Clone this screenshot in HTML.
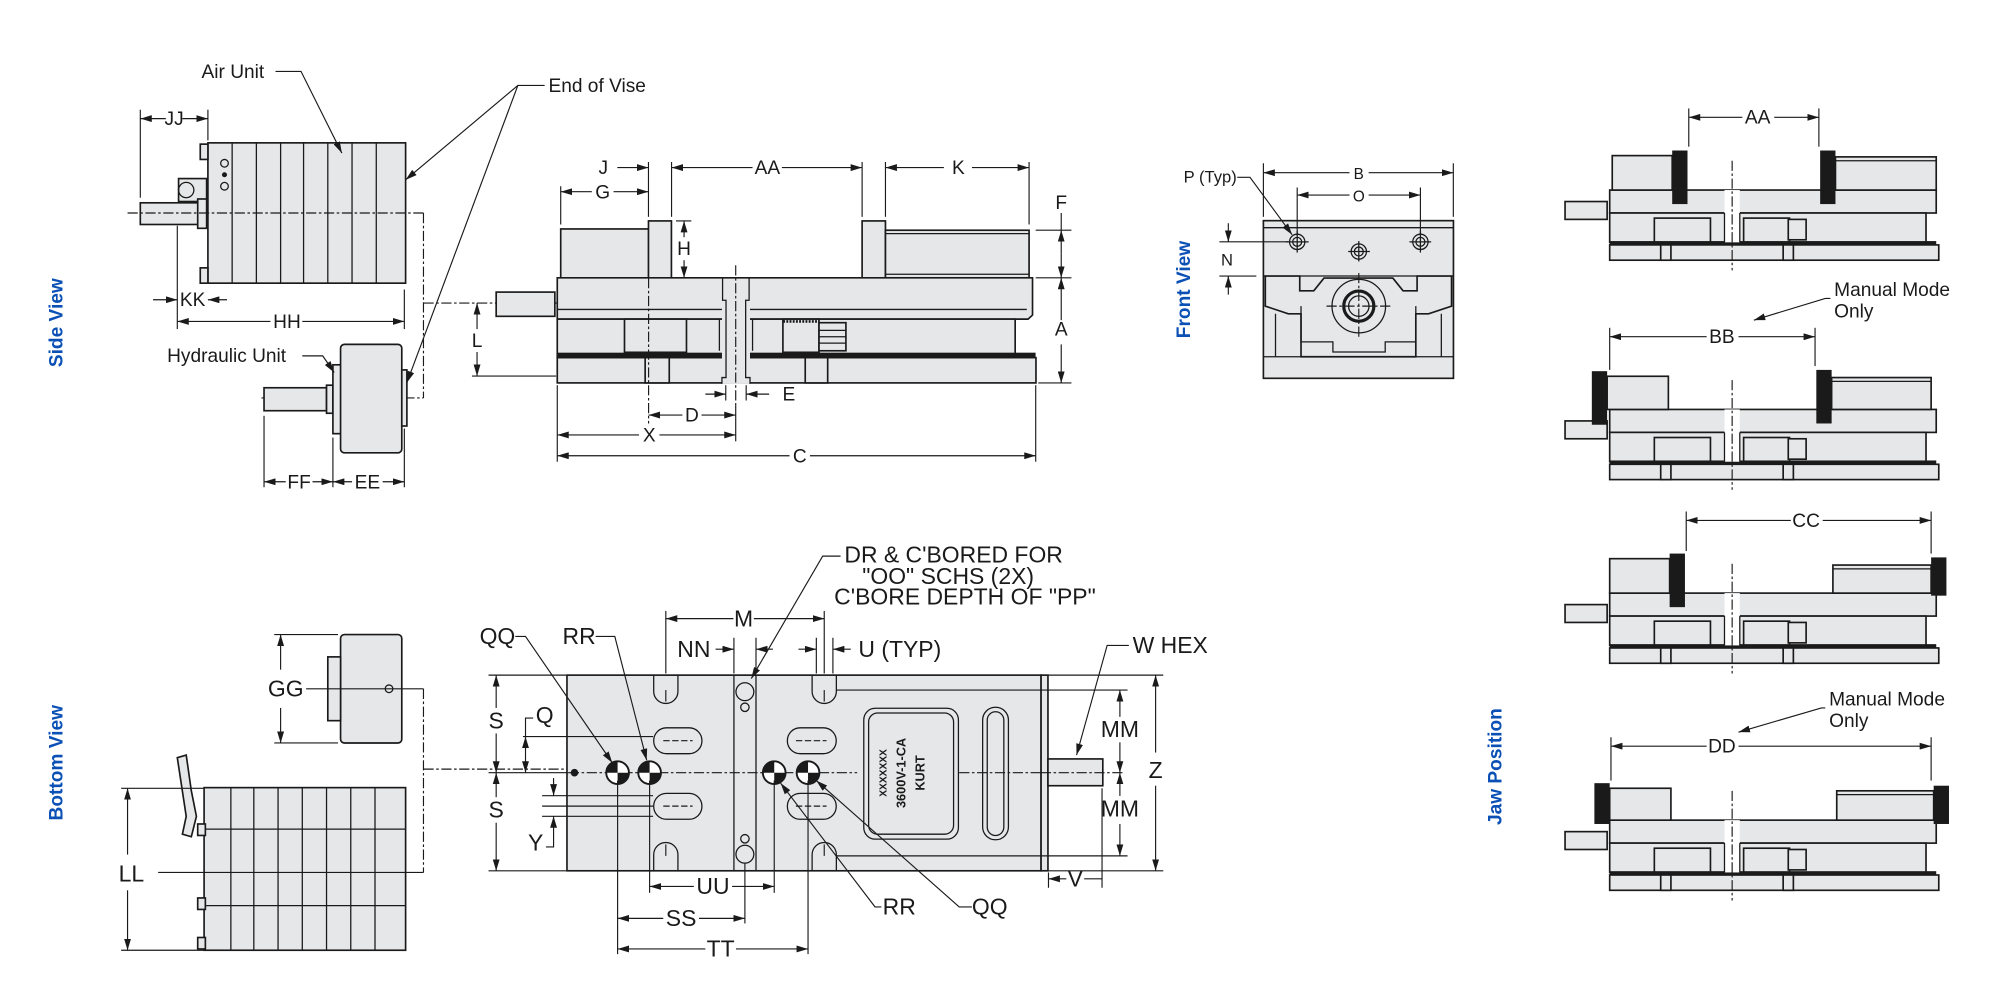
<!DOCTYPE html>
<html><head><meta charset="utf-8"><style>
html,body{margin:0;padding:0;background:#fff;width:2000px;height:1000px;overflow:hidden}
svg{display:block}
text{font-family:"Liberation Sans Narrow","Liberation Sans",sans-serif;fill:#1a1a1a}
.b{fill:#e6e7e8;stroke:#1a1a1a;stroke-width:1.3}
.k{fill:none;stroke:#1a1a1a;stroke-width:1}
.t{fill:none;stroke:#1a1a1a;stroke-width:0.9}
.c{fill:none;stroke:#1a1a1a;stroke-width:0.9;stroke-dasharray:8 2 2 2}
.d{fill:#1a1a1a}
.bl{font-family:"Liberation Sans",sans-serif;font-weight:bold;fill:#0b50b5;font-size:15px}
.s{font-size:15px}
.m{font-size:18px}
</style></head><body>
<svg width="2000" height="1000" viewBox="0 0 1568 784" xmlns="http://www.w3.org/2000/svg">
<defs>
<marker id="a" viewBox="0 0 10 6" refX="10" refY="3" markerWidth="9" markerHeight="5.4" markerUnits="userSpaceOnUse" orient="auto-start-reverse"><path d="M0,0 L10,3 L0,6z" fill="#1a1a1a"/></marker>
<g id="jb">
<rect class="b" x="1227" y="158" width="33" height="14"/>
<rect class="b" x="1262" y="149" width="256" height="18"/>
<rect class="b" x="1262" y="167" width="248" height="23"/>
<rect class="b" x="1297" y="171" width="44" height="19"/>
<rect class="b" x="1367" y="171" width="36" height="19"/>
<rect class="b" x="1402" y="172" width="14" height="16"/>
<rect x="1262" y="189" width="256" height="3" class="d"/>
<rect class="b" x="1262" y="192" width="258" height="12"/>
<rect class="b" x="1302" y="192" width="8" height="12"/>
<rect class="b" x="1398" y="192" width="8" height="12"/>
<rect x="1352" y="149" width="12" height="41" fill="#fff"/>
<line class="k" x1="1352" y1="167" x2="1352" y2="190"/><line class="k" x1="1364" y1="167" x2="1364" y2="190"/>
<line class="c" x1="1358" y1="126" x2="1358" y2="212"/>
</g>
</defs>

<!-- ===== Side view: air unit ===== -->
<rect class="b" x="163" y="112" width="155" height="110"/>
<g class="k"><line x1="182" y1="112" x2="182" y2="222"/><line x1="201" y1="112" x2="201" y2="222"/><line x1="220" y1="112" x2="220" y2="222"/><line x1="238" y1="112" x2="238" y2="222"/><line x1="257" y1="112" x2="257" y2="222"/><line x1="276" y1="112" x2="276" y2="222"/><line x1="295" y1="112" x2="295" y2="222"/></g>
<rect class="b" x="157" y="113" width="6" height="12"/><rect class="b" x="157" y="210" width="6" height="12"/>
<circle class="k" cx="176" cy="128" r="3"/><circle class="d" cx="176" cy="137" r="2"/><circle class="k" cx="176" cy="146" r="3"/>
<rect class="b" x="140" y="140" width="22" height="18"/><circle class="k" cx="146" cy="149" r="6"/>
<rect class="b" x="110" y="159" width="46" height="17"/><rect class="b" x="155" y="156" width="7" height="23"/>
<line class="c" x1="100" y1="167" x2="333" y2="167"/>
<line class="c" x1="332" y1="167" x2="332" y2="312"/>
<line class="c" x1="332" y1="237.6" x2="437" y2="237.6"/>
<line class="c" x1="205" y1="312" x2="332" y2="312"/>
<!-- JJ -->
<line class="t" x1="110" y1="86" x2="110" y2="155"/><line class="t" x1="163" y1="86" x2="163" y2="110"/>
<line class="t" x1="110" y1="93" x2="130" y2="93" marker-start="url(#a)"/><line class="t" x1="143" y1="93" x2="163" y2="93" marker-end="url(#a)"/>
<text class="s" x="136.5" y="98" text-anchor="middle">JJ</text>
<!-- KK -->
<line class="t" x1="139" y1="177" x2="139" y2="258"/>
<line class="t" x1="120" y1="235" x2="139" y2="235" marker-end="url(#a)"/><line class="t" x1="178" y1="235" x2="163" y2="235" marker-end="url(#a)"/>
<text class="s" x="151" y="240" text-anchor="middle">KK</text>
<!-- HH -->
<line class="t" x1="317" y1="227" x2="317" y2="258"/>
<line class="t" x1="139" y1="252" x2="212" y2="252" marker-start="url(#a)"/><line class="t" x1="237" y1="252" x2="317" y2="252" marker-end="url(#a)"/>
<text class="s" x="225" y="257" text-anchor="middle">HH</text>
<text class="s" x="158" y="61">Air Unit</text>
<polyline class="t" points="216,56 236,56 268,120" marker-end="url(#a)"/>
<text class="s" x="430" y="72">End of Vise</text>
<polyline class="t" points="427,67 406,67 318,141" marker-end="url(#a)"/>
<line class="t" x1="406" y1="67" x2="319" y2="300" marker-end="url(#a)"/>
<!-- hydraulic -->
<rect class="b" x="207" y="304" width="49" height="18"/>
<rect class="b" x="256" y="302" width="5" height="22"/>
<rect class="b" x="261" y="286" width="7" height="54"/>
<rect class="b" x="267" y="270" width="48" height="85" rx="3"/>
<rect class="b" x="315" y="290" width="4" height="44"/>
<text class="s" x="131" y="284">Hydraulic Unit</text>
<polyline class="t" points="237,279 253,279 262,292" marker-end="url(#a)"/>
<line class="t" x1="207" y1="326" x2="207" y2="382"/><line class="t" x1="261" y1="343" x2="261" y2="382"/><line class="t" x1="317" y1="336" x2="317" y2="382"/>
<line class="t" x1="207" y1="377.7" x2="224" y2="377.7" marker-start="url(#a)"/><line class="t" x1="245" y1="377.7" x2="261" y2="377.7" marker-end="url(#a)"/>
<line class="t" x1="261" y1="377.7" x2="276" y2="377.7" marker-start="url(#a)"/><line class="t" x1="300" y1="377.7" x2="317" y2="377.7" marker-end="url(#a)"/>
<text class="s" x="234.5" y="383" text-anchor="middle">FF</text><text class="s" x="288" y="383" text-anchor="middle">EE</text>

<!-- ===== main vise side view ===== -->
<rect class="b" x="389" y="229" width="46" height="19"/>
<rect class="b" x="439.6" y="179.5" width="69" height="39"/>
<rect class="b" x="508.4" y="173.2" width="18" height="45"/>
<rect class="b" x="675.9" y="173.2" width="18.3" height="45"/>
<rect class="b" x="694.2" y="180.5" width="112.6" height="37.3"/>
<line class="k" x1="694.2" y1="183.2" x2="806.8" y2="183.2"/><line class="k" x1="694.2" y1="215" x2="806.8" y2="215"/>
<path class="b" d="M436.9,217.8 H809.5 V247 L806,250.2 H436.9Z"/>
<line class="k" x1="436.9" y1="242.6" x2="805" y2="242.6"/>
<rect class="b" x="436.9" y="250.2" width="359" height="29.7"/>
<rect class="b" x="489.6" y="250.2" width="48.6" height="26"/>
<rect class="b" x="613.8" y="250.2" width="28.3" height="26"/>
<rect class="b" x="642.1" y="253" width="21.1" height="22"/>
<g class="k"><line x1="642" y1="259" x2="663" y2="259"/><line x1="642" y1="264" x2="663" y2="264"/><line x1="642" y1="269" x2="663" y2="269"/></g>
<line x1="614" y1="252" x2="642" y2="252" stroke="#1a1a1a" stroke-width="2" stroke-dasharray="1.5 1"/>
<rect x="436.9" y="276.5" width="375" height="3.5" class="d"/>
<rect class="b" x="436.9" y="280.4" width="375.3" height="19.8"/>
<rect class="b" x="505.8" y="280.4" width="18.9" height="19.8"/>
<rect class="b" x="631.3" y="280.4" width="17.6" height="19.8"/>
<rect x="566" y="219" width="22" height="82" fill="#e6e7e8"/>
<path class="k" d="M566.5,218 V235.4 H569.2 V296 H566 V301 M587.3,218 V235.4 H584.6 V296 H588 V301"/>
<path class="k" d="M566,250.2 H564 V275 M588,250.2 H590 V275"/>
<line class="c" x1="576.8" y1="208" x2="576.8" y2="318"/>
<line class="c" x1="508.5" y1="218" x2="508.5" y2="332"/>
<!-- dims top -->
<g class="t">
<line x1="439.6" y1="146" x2="439.6" y2="176"/><line x1="508.4" y1="127" x2="508.4" y2="170"/><line x1="526.5" y1="127" x2="526.5" y2="170"/>
<line x1="675.9" y1="127" x2="675.9" y2="170"/><line x1="694.2" y1="127" x2="694.2" y2="170"/><line x1="806.8" y1="127" x2="806.8" y2="176"/>
</g>
<line class="t" x1="484" y1="131.4" x2="508.4" y2="131.4" marker-end="url(#a)"/>
<text class="s" x="473" y="136.5" text-anchor="middle">J</text>
<line class="t" x1="439.6" y1="150.3" x2="464" y2="150.3" marker-start="url(#a)"/><line class="t" x1="481" y1="150.3" x2="508.4" y2="150.3" marker-end="url(#a)"/>
<text class="s" x="472.5" y="155.5" text-anchor="middle">G</text>
<line class="t" x1="526.5" y1="131.4" x2="590" y2="131.4" marker-start="url(#a)"/><line class="t" x1="613" y1="131.4" x2="675.9" y2="131.4" marker-end="url(#a)"/>
<text class="s" x="601.6" y="136.5" text-anchor="middle">AA</text>
<line class="t" x1="694.2" y1="131.4" x2="740" y2="131.4" marker-start="url(#a)"/><line class="t" x1="762" y1="131.4" x2="806.8" y2="131.4" marker-end="url(#a)"/>
<text class="s" x="751.4" y="136.5" text-anchor="middle">K</text>
<!-- F / A -->
<line class="t" x1="812" y1="180.5" x2="840" y2="180.5"/><line class="t" x1="812" y1="217.8" x2="840" y2="217.8"/><line class="t" x1="814" y1="300.2" x2="840" y2="300.2"/>
<line class="t" x1="832" y1="167" x2="832" y2="180.5"/>
<line class="t" x1="832" y1="199" x2="832" y2="180.5" marker-end="url(#a)"/><line class="t" x1="832" y1="199" x2="832" y2="217.8" marker-end="url(#a)"/>
<text class="s" x="832" y="164" text-anchor="middle">F</text>
<line class="t" x1="832" y1="251" x2="832" y2="217.8" marker-end="url(#a)"/><line class="t" x1="832" y1="270" x2="832" y2="300.2" marker-end="url(#a)"/>
<text class="s" x="832" y="263" text-anchor="middle">A</text>
<!-- H -->
<line class="t" x1="530" y1="173.2" x2="542" y2="173.2"/><line class="t" x1="530" y1="217.8" x2="542" y2="217.8"/>
<line class="t" x1="536.3" y1="186" x2="536.3" y2="173.2" marker-end="url(#a)"/><line class="t" x1="536.3" y1="204" x2="536.3" y2="217.8" marker-end="url(#a)"/>
<text class="s" x="536.3" y="200" text-anchor="middle">H</text>
<!-- L -->
<line class="t" x1="370" y1="294.8" x2="436" y2="294.8"/>
<line class="t" x1="374" y1="258" x2="374" y2="237.6" marker-end="url(#a)"/><line class="t" x1="374" y1="276" x2="374" y2="294.8" marker-end="url(#a)"/>
<text class="s" x="374" y="272" text-anchor="middle">L</text>
<!-- E D X C -->
<g class="t"><line x1="436.9" y1="302" x2="436.9" y2="362"/><line x1="569" y1="302" x2="569" y2="314"/><line x1="585" y1="302" x2="585" y2="314"/><line x1="576.8" y1="318" x2="576.8" y2="346"/><line x1="812" y1="302" x2="812" y2="362"/></g>
<line class="t" x1="553" y1="309" x2="569" y2="309" marker-end="url(#a)"/><line class="t" x1="603" y1="309" x2="585" y2="309" marker-end="url(#a)"/>
<text class="s" x="618.5" y="314" text-anchor="middle">E</text>
<line class="t" x1="508.5" y1="325.4" x2="535" y2="325.4" marker-start="url(#a)"/><line class="t" x1="550" y1="325.4" x2="576.8" y2="325.4" marker-end="url(#a)"/>
<text class="s" x="542.5" y="330.5" text-anchor="middle">D</text>
<line class="t" x1="436.9" y1="341" x2="501" y2="341" marker-start="url(#a)"/><line class="t" x1="517" y1="341" x2="576.8" y2="341" marker-end="url(#a)"/>
<text class="s" x="509" y="346" text-anchor="middle">X</text>
<line class="t" x1="436.9" y1="357.3" x2="619" y2="357.3" marker-start="url(#a)"/><line class="t" x1="635" y1="357.3" x2="812" y2="357.3" marker-end="url(#a)"/>
<text class="s" x="627" y="362.5" text-anchor="middle">C</text>

<!-- ===== Front view ===== -->
<rect class="b" x="990.5" y="173" width="149" height="123.6"/>
<line class="k" x1="990.5" y1="178.5" x2="1139.4" y2="178.5"/>
<line class="k" x1="990.5" y1="216.4" x2="1139.4" y2="216.4"/>
<path class="b" d="M992,216.4 H1019 V228 H1030 L1038,218 H1092 L1100,228 H1111 V216.4 H1138 V240 L1120,246 H1110 V279.7 H1020 V246 H1010 L992,240Z"/>
<path class="k" d="M1020,240 V268 H1045 V276 H1086 V268 H1110 V240 M1000,246 V279.7 M1130,246 V279.7"/>
<circle class="k" cx="1065.3" cy="240" r="21"/>
<circle cx="1065.3" cy="240" r="11.8" fill="#e6e7e8" stroke="#1a1a1a" stroke-width="2.5"/>
<circle class="k" cx="1065.3" cy="240" r="8"/>
<line class="c" x1="1040" y1="240" x2="1090" y2="240"/><line class="c" x1="1065.3" y1="214" x2="1065.3" y2="266"/>
<line class="k" x1="990.5" y1="279.7" x2="1139.4" y2="279.7"/>
<g class="k"><circle cx="1017" cy="189.6" r="6"/><circle cx="1017" cy="189.6" r="3.5"/><circle cx="1113.6" cy="189.6" r="6"/><circle cx="1113.6" cy="189.6" r="3.5"/><circle cx="1065.3" cy="197.2" r="6"/><circle cx="1065.3" cy="197.2" r="3.5"/>
<line x1="1008" y1="189.6" x2="1026" y2="189.6"/><line x1="1017" y1="181" x2="1017" y2="198"/><line x1="1105" y1="189.6" x2="1122" y2="189.6"/><line x1="1113.6" y1="181" x2="1113.6" y2="198"/><line x1="1057" y1="197.2" x2="1074" y2="197.2"/><line x1="1065.3" y1="189" x2="1065.3" y2="205"/></g>
<g class="t"><line x1="990.5" y1="128" x2="990.5" y2="170"/><line x1="1139.4" y1="128" x2="1139.4" y2="170"/><line x1="1017" y1="147" x2="1017" y2="183"/><line x1="1113.6" y1="147" x2="1113.6" y2="183"/></g>
<line class="t" x1="990.5" y1="135.4" x2="1058" y2="135.4" marker-start="url(#a)"/><line class="t" x1="1073" y1="135.4" x2="1139.4" y2="135.4" marker-end="url(#a)"/>
<text class="s" x="1065.3" y="140.5" text-anchor="middle" style="font-family:'Liberation Sans',sans-serif;font-size:12px">B</text>
<line class="t" x1="1017" y1="152.9" x2="1058" y2="152.9" marker-start="url(#a)"/><line class="t" x1="1073" y1="152.9" x2="1113.6" y2="152.9" marker-end="url(#a)"/>
<text x="1065.3" y="158" text-anchor="middle" style="font-family:'Liberation Sans',sans-serif;font-size:12px">O</text>
<text x="928" y="143" style="font-size:13px">P (Typ)</text>
<polyline class="t" points="970,139 980,139 1013,184" marker-end="url(#a)"/>
<line class="t" x1="956" y1="189.6" x2="1010" y2="189.6"/><line class="t" x1="956" y1="216.4" x2="985" y2="216.4"/>
<line class="t" x1="963" y1="175" x2="963" y2="189.6" marker-end="url(#a)"/><line class="t" x1="963" y1="231" x2="963" y2="216.4" marker-end="url(#a)"/>
<text x="962" y="208" text-anchor="middle" style="font-size:13px">N</text>

<!-- ===== Bottom view ===== -->
<rect class="b" x="267" y="497.5" width="48" height="85" rx="3"/>
<rect class="b" x="257" y="515" width="10" height="50"/>
<line class="t" x1="215" y1="497.5" x2="265" y2="497.5"/><line class="t" x1="215" y1="582.5" x2="265" y2="582.5"/>
<line class="t" x1="220" y1="525" x2="220" y2="497.5" marker-end="url(#a)"/><line class="t" x1="220" y1="555" x2="220" y2="582.5" marker-end="url(#a)"/>
<text class="m" x="224" y="546" text-anchor="middle">GG</text>
<line class="t" x1="240" y1="540" x2="332" y2="540"/><circle class="k" cx="305" cy="540" r="3"/>
<line class="c" x1="332" y1="540" x2="332" y2="684"/>
<line class="c" x1="332" y1="603" x2="446" y2="603"/>
<rect class="b" x="160" y="617.5" width="158" height="127.5"/>
<g class="k"><line x1="181" y1="617.5" x2="181" y2="745"/><line x1="199" y1="617.5" x2="199" y2="745"/><line x1="218" y1="617.5" x2="218" y2="745"/><line x1="237" y1="617.5" x2="237" y2="745"/><line x1="256" y1="617.5" x2="256" y2="745"/><line x1="275" y1="617.5" x2="275" y2="745"/><line x1="294" y1="617.5" x2="294" y2="745"/>
<line x1="160" y1="650" x2="318" y2="650"/><line x1="160" y1="710" x2="318" y2="710"/></g>
<path class="b" d="M139,594 L146,592 L150,620 L154,640 L150,656 L143,654 L146,640 Z"/>
<rect class="b" x="155" y="646" width="6" height="9"/><rect class="b" x="155" y="704" width="6" height="9"/><rect class="b" x="155" y="735" width="6" height="9"/>
<line class="t" x1="95" y1="618" x2="160" y2="618"/><line class="t" x1="95" y1="745" x2="318" y2="745"/>
<line class="t" x1="100" y1="670" x2="100" y2="618" marker-end="url(#a)"/><line class="t" x1="100" y1="698" x2="100" y2="745" marker-end="url(#a)"/>
<text class="m" x="103" y="691" text-anchor="middle">LL</text>
<line class="t" x1="124" y1="684" x2="332" y2="684"/>

<!-- main bottom -->
<rect class="b" x="444.5" y="529.3" width="371.7" height="153.4"/>
<rect class="b" x="816.2" y="529.3" width="5.4" height="153.4"/>
<line class="k" x1="575.4" y1="529.3" x2="575.4" y2="682.7"/><line class="k" x1="592.7" y1="529.3" x2="592.7" y2="682.7"/>
<line class="c" x1="446" y1="605.8" x2="672" y2="605.8"/><line class="c" x1="752" y1="605.8" x2="816" y2="605.8"/>
<rect class="b" x="821.6" y="595" width="43" height="21"/>
<line class="c" x1="816" y1="605.8" x2="880" y2="605.8"/>
<g class="k" stroke-width="2">
<path d="M512.5,529.3 V542 A9.5,9.5 0 0 0 531.5,542 V529.3"/>
<path d="M636.7,529.3 V542 A9.5,9.5 0 0 0 655.7,542 V529.3"/>
<path d="M512.5,682.7 V670 A9.5,9.5 0 0 1 531.5,670 V682.7"/>
<path d="M636.7,682.7 V670 A9.5,9.5 0 0 1 655.7,670 V682.7"/>
<rect x="512.5" y="570.6" width="37.8" height="20.3" rx="10"/>
<rect x="512.5" y="622" width="37.8" height="20.3" rx="10"/>
<rect x="617.3" y="570.6" width="38.3" height="20.3" rx="10"/>
<rect x="617.3" y="622" width="38.3" height="20.3" rx="10"/>
<rect x="677.2" y="555.3" width="74.2" height="102.6" rx="9"/>
<rect x="770.4" y="554.5" width="20.2" height="103.9" rx="10"/>
</g>
<rect class="k" x="681" y="559" width="66.6" height="95" rx="7"/>
<rect class="k" x="774" y="558" width="13" height="97" rx="6.5"/>
<g class="t"><line x1="522" y1="541" x2="522" y2="550"/><line x1="646.2" y1="541" x2="646.2" y2="550"/><line x1="522" y1="662" x2="522" y2="671"/><line x1="646.2" y1="662" x2="646.2" y2="671"/>
<line x1="520" y1="580.7" x2="543" y2="580.7" stroke-dasharray="5 2"/><line x1="520" y1="632" x2="543" y2="632" stroke-dasharray="5 2"/><line x1="624" y1="580.7" x2="648" y2="580.7" stroke-dasharray="5 2"/><line x1="624" y1="632" x2="648" y2="632" stroke-dasharray="5 2"/></g>
<g class="k"><circle cx="584" cy="542.3" r="7"/><circle cx="584" cy="554.5" r="3.3"/><circle cx="584" cy="669.7" r="7"/><circle cx="584" cy="657.6" r="3.3"/></g>
<circle class="d" cx="450.4" cy="605.8" r="3"/>
<g>
<circle cx="484.2" cy="605.8" r="8.9" fill="#fff" stroke="#1a1a1a" stroke-width="1.5"/><path class="d" d="M475.3,605.8 A8.9,8.9 0 0 1 484.2,596.9 V605.8Z M493.1,605.8 A8.9,8.9 0 0 1 484.2,614.7 V605.8Z"/>
<circle cx="509.3" cy="605.8" r="8.9" fill="#fff" stroke="#1a1a1a" stroke-width="1.5"/><path class="d" d="M500.4,605.8 A8.9,8.9 0 0 1 509.3,596.9 V605.8Z M518.2,605.8 A8.9,8.9 0 0 1 509.3,614.7 V605.8Z"/>
<circle cx="607" cy="605.8" r="8.9" fill="#fff" stroke="#1a1a1a" stroke-width="1.5"/><path class="d" d="M598.1,605.8 A8.9,8.9 0 0 1 607,596.9 V605.8Z M615.9,605.8 A8.9,8.9 0 0 1 607,614.7 V605.8Z"/>
<circle cx="633.5" cy="605.8" r="8.9" fill="#fff" stroke="#1a1a1a" stroke-width="1.5"/><path class="d" d="M624.6,605.8 A8.9,8.9 0 0 1 633.5,596.9 V605.8Z M642.4,605.8 A8.9,8.9 0 0 1 633.5,614.7 V605.8Z"/>
</g>
<g transform="translate(714,606) rotate(-90)" text-anchor="middle">
<text x="0" y="-19" style="font-size:8px;font-family:'Liberation Sans',sans-serif;font-weight:bold">XXXXXXX</text>
<text x="0" y="-4" style="font-size:10px;font-family:'Liberation Sans',sans-serif;font-weight:bold">3600V-1-CA</text>
<text x="0" y="11" style="font-size:10px;font-family:'Liberation Sans',sans-serif;font-weight:bold">KURT</text>
</g>
<!-- left dims -->
<g class="t"><line x1="383" y1="529.3" x2="444" y2="529.3"/><line x1="383" y1="682.7" x2="444" y2="682.7"/><line x1="383" y1="605.8" x2="446" y2="605.8"/>
<line x1="410" y1="577.5" x2="512" y2="577.5"/><line x1="425" y1="623.8" x2="512" y2="623.8"/><line x1="425" y1="632" x2="512" y2="632"/><line x1="425" y1="640" x2="512" y2="640"/></g>
<line class="t" x1="389" y1="555" x2="389" y2="529.3" marker-end="url(#a)"/><line class="t" x1="389" y1="575" x2="389" y2="605.8" marker-end="url(#a)"/>
<text class="m" x="389" y="571" text-anchor="middle">S</text>
<line class="t" x1="389" y1="625" x2="389" y2="605.8" marker-end="url(#a)"/><line class="t" x1="389" y1="645" x2="389" y2="682.7" marker-end="url(#a)"/>
<text class="m" x="389" y="641" text-anchor="middle">S</text>
<polyline class="t" points="418,563 412,563 412,577.5"/><line class="t" x1="412" y1="590" x2="412" y2="577.5" marker-end="url(#a)"/><line class="t" x1="412" y1="590" x2="412" y2="605.8" marker-end="url(#a)"/>
<text class="m" x="427" y="567" text-anchor="middle">Q</text>
<line class="t" x1="434" y1="610" x2="434" y2="623.8" marker-end="url(#a)"/><polyline class="t" points="428,664 434,664 434,640" marker-end="url(#a)"/>
<text class="m" x="420" y="667" text-anchor="middle">Y</text>
<!-- top dims -->
<g class="t"><line x1="522" y1="479" x2="522" y2="528"/><line x1="646.2" y1="479" x2="646.2" y2="528"/><line x1="575.4" y1="500" x2="575.4" y2="528"/><line x1="592.7" y1="500" x2="592.7" y2="528"/><line x1="640" y1="500" x2="640" y2="528"/><line x1="653" y1="500" x2="653" y2="528"/></g>
<line class="t" x1="522" y1="485" x2="575" y2="485" marker-start="url(#a)"/><line class="t" x1="591" y1="485" x2="646.2" y2="485" marker-end="url(#a)"/>
<text class="m" x="583" y="491" text-anchor="middle">M</text>
<line class="t" x1="561" y1="509" x2="575.4" y2="509" marker-end="url(#a)"/><line class="t" x1="606" y1="509" x2="592.7" y2="509" marker-end="url(#a)"/>
<text class="m" x="544" y="515" text-anchor="middle">NN</text>
<line class="t" x1="626" y1="509" x2="640" y2="509" marker-end="url(#a)"/><line class="t" x1="667" y1="509" x2="653" y2="509" marker-end="url(#a)"/>
<text class="m" x="673" y="515">U (TYP)</text>
<text class="m" x="662" y="441">DR &amp; C'BORED FOR</text>
<text class="m" x="676" y="458">"OO" SCHS (2X)</text>
<text class="m" x="654" y="474">C'BORE DEPTH OF "PP"</text>
<polyline class="t" points="659,436 645,436 589,532" marker-end="url(#a)"/>
<text class="m" x="390" y="505" text-anchor="middle">QQ</text>
<polyline class="t" points="404,499 412,499 480,598" marker-end="url(#a)"/>
<text class="m" x="454" y="505" text-anchor="middle">RR</text>
<polyline class="t" points="467,499 482,499 507,596" marker-end="url(#a)"/>
<text class="m" x="888" y="512">W HEX</text>
<polyline class="t" points="885,506 868,506 844,592" marker-end="url(#a)"/>
<!-- bottom dims -->
<g class="t"><line x1="484.2" y1="612" x2="484.2" y2="748"/><line x1="509.3" y1="612" x2="509.3" y2="700"/><line x1="584" y1="677" x2="584" y2="724"/><line x1="607" y1="612" x2="607" y2="700"/><line x1="633.5" y1="612" x2="633.5" y2="748"/></g>
<line class="t" x1="509.3" y1="695" x2="544" y2="695" marker-start="url(#a)"/><line class="t" x1="574" y1="695" x2="607" y2="695" marker-end="url(#a)"/>
<text class="m" x="559" y="701" text-anchor="middle">UU</text>
<line class="t" x1="484.2" y1="720" x2="520" y2="720" marker-start="url(#a)"/><line class="t" x1="548" y1="720" x2="584" y2="720" marker-end="url(#a)"/>
<text class="m" x="534" y="726" text-anchor="middle">SS</text>
<line class="t" x1="484.2" y1="744" x2="553" y2="744" marker-start="url(#a)"/><line class="t" x1="577" y1="744" x2="633.5" y2="744" marker-end="url(#a)"/>
<text class="m" x="565" y="750" text-anchor="middle">TT</text>
<text class="m" x="705" y="717" text-anchor="middle">RR</text>
<polyline class="t" points="691,711 686,711 612,614" marker-end="url(#a)"/>
<text class="m" x="776" y="717" text-anchor="middle">QQ</text>
<polyline class="t" points="762,711 752,711 640,612" marker-end="url(#a)"/>
<!-- right dims -->
<g class="t"><line x1="656" y1="541" x2="884" y2="541"/><line x1="656" y1="671" x2="884" y2="671"/><line x1="822" y1="529.3" x2="912" y2="529.3"/><line x1="822" y1="682.7" x2="912" y2="682.7"/><line x1="822" y1="684" x2="822" y2="696"/><line x1="864" y1="618" x2="864" y2="696"/></g>
<line class="t" x1="878" y1="562" x2="878" y2="541" marker-end="url(#a)"/><line class="t" x1="878" y1="582" x2="878" y2="605.8" marker-end="url(#a)"/>
<text class="m" x="878" y="578" text-anchor="middle">MM</text>
<line class="t" x1="878" y1="624" x2="878" y2="605.8" marker-end="url(#a)"/><line class="t" x1="878" y1="646" x2="878" y2="671" marker-end="url(#a)"/>
<text class="m" x="878" y="640" text-anchor="middle">MM</text>
<line class="t" x1="906" y1="590" x2="906" y2="529.3" marker-end="url(#a)"/><line class="t" x1="906" y1="616" x2="906" y2="682.7" marker-end="url(#a)"/>
<text class="m" x="906" y="610" text-anchor="middle">Z</text>
<line class="t" x1="836" y1="689" x2="822" y2="689" marker-end="url(#a)"/><line class="t" x1="850" y1="689" x2="864" y2="689"/>
<text class="m" x="843" y="695" text-anchor="middle">V</text>

<!-- ===== Jaw positions ===== -->
<use href="#jb"/>
<rect class="b" x="1264" y="122" width="47" height="27"/>
<rect class="d" x="1311" y="118" width="12" height="42"/><rect class="d" x="1427" y="118" width="12" height="42"/>
<rect class="b" x="1439" y="123" width="79" height="26"/><line class="k" x1="1439" y1="126" x2="1518" y2="126"/>
<g transform="translate(0,172)"><use href="#jb"/>
<rect class="b" x="1260" y="123" width="48" height="26"/><rect class="d" x="1248" y="119" width="12" height="42"/>
<rect class="d" x="1424" y="118" width="12" height="42"/><rect class="b" x="1436" y="124" width="78" height="25"/><line class="k" x1="1436" y1="127" x2="1514" y2="127"/></g>
<g transform="translate(0,316)"><use href="#jb"/>
<rect class="b" x="1262" y="122" width="47" height="27"/><rect class="d" x="1309" y="118" width="12" height="42"/>
<rect class="b" x="1437" y="127" width="77" height="22"/><line class="k" x1="1437" y1="130" x2="1514" y2="130"/><rect class="d" x="1514" y="121" width="12" height="30"/></g>
<g transform="translate(0,494)"><use href="#jb"/>
<rect class="b" x="1262" y="124" width="48" height="25"/><rect class="d" x="1250" y="120" width="12" height="32"/>
<rect class="b" x="1440" y="126" width="76" height="23"/><line class="k" x1="1440" y1="129" x2="1516" y2="129"/><rect class="d" x="1516" y="122" width="12" height="30"/></g>
<g class="t"><line x1="1324" y1="85" x2="1324" y2="115"/><line x1="1426" y1="85" x2="1426" y2="115"/>
<line x1="1262" y1="257" x2="1262" y2="290"/><line x1="1423" y1="257" x2="1423" y2="287"/>
<line x1="1322" y1="401" x2="1322" y2="432"/><line x1="1514" y1="401" x2="1514" y2="434"/>
<line x1="1263" y1="578" x2="1263" y2="612"/><line x1="1514" y1="578" x2="1514" y2="612"/></g>
<line class="t" x1="1324" y1="92" x2="1366" y2="92" marker-start="url(#a)"/><line class="t" x1="1391" y1="92" x2="1426" y2="92" marker-end="url(#a)"/>
<text class="s" x="1378" y="97" text-anchor="middle">AA</text>
<line class="t" x1="1262" y1="264" x2="1338" y2="264" marker-start="url(#a)"/><line class="t" x1="1363" y1="264" x2="1423" y2="264" marker-end="url(#a)"/>
<text class="s" x="1350" y="269" text-anchor="middle">BB</text>
<line class="t" x1="1322" y1="408" x2="1404" y2="408" marker-start="url(#a)"/><line class="t" x1="1429" y1="408" x2="1514" y2="408" marker-end="url(#a)"/>
<text class="s" x="1416" y="413" text-anchor="middle">CC</text>
<line class="t" x1="1263" y1="585" x2="1338" y2="585" marker-start="url(#a)"/><line class="t" x1="1363" y1="585" x2="1514" y2="585" marker-end="url(#a)"/>
<text class="s" x="1350" y="590" text-anchor="middle">DD</text>
<text class="s" x="1438" y="232">Manual Mode</text><text class="s" x="1438" y="249">Only</text>
<polyline class="t" points="1435,234 1431,234 1375,251" marker-end="url(#a)"/>
<text class="s" x="1434" y="553">Manual Mode</text><text class="s" x="1434" y="570">Only</text>
<polyline class="t" points="1431,555 1428,555 1363,574" marker-end="url(#a)"/>

<text class="bl" transform="translate(49,253) rotate(-90)" text-anchor="middle">Side View</text>
<text class="bl" transform="translate(933,227) rotate(-90)" text-anchor="middle">Front View</text>
<text class="bl" transform="translate(49,598) rotate(-90)" text-anchor="middle">Bottom View</text>
<text class="bl" transform="translate(1177,601) rotate(-90)" text-anchor="middle">Jaw Position</text>
</svg>
</body></html>
